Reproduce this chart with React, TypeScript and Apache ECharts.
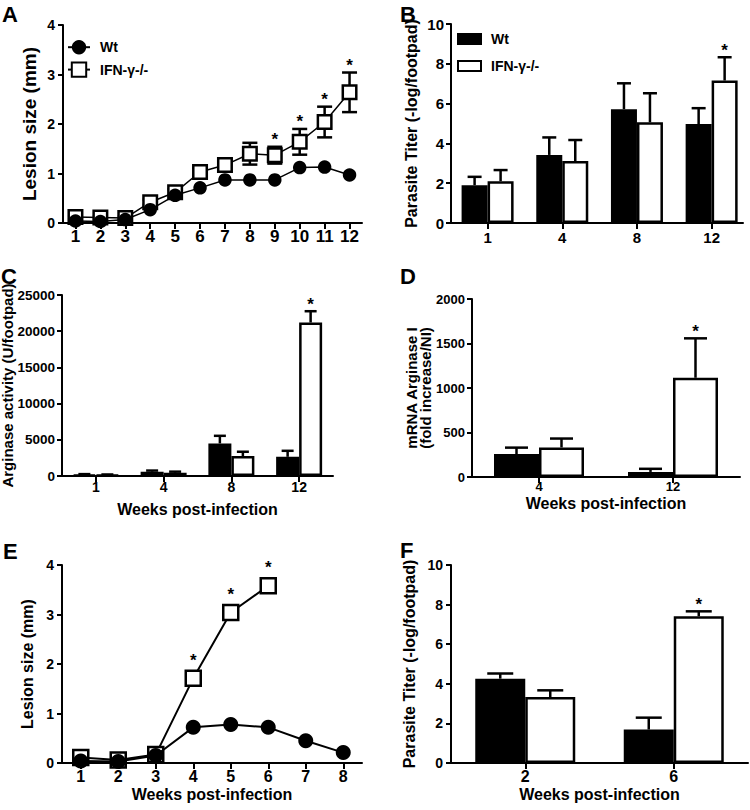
import React, { useEffect, useRef } from 'react';
import * as echarts from 'echarts';

const FONT = '"Liberation Sans", Arial, Helvetica, sans-serif';

// ---------- Panel A: lesion size, weeks 1-12 ----------
const aWeeks = [1, 2, 3, 4, 5, 6, 7, 8, 9, 10, 11, 12];
const aWt = [0.04, 0.03, 0.07, 0.27, 0.56, 0.71, 0.87, 0.87, 0.87, 1.12, 1.13, 0.97];
const aIfn = [0.12, 0.11, 0.1, 0.42, 0.62, 1.03, 1.17, 1.4, 1.37, 1.64, 2.04, 2.64];
const aIfnErr = [0.03, 0.03, 0.03, 0.05, 0.06, 0.08, 0.12, 0.22, 0.17, 0.26, 0.31, 0.4];
const aStarWeeks = [9, 10, 11, 12];

// ---------- Panel B: parasite titer ----------
const bWeeks = ['1', '4', '8', '12'];
const bWt = [1.9, 3.42, 5.72, 4.97];
const bWtErr = [0.42, 0.88, 1.3, 0.8];
const bIfn = [2.1, 3.11, 5.06, 7.16];
const bIfnErr = [0.56, 1.06, 1.46, 1.17];
const bStarIdx = [3];

// ---------- Panel C: arginase activity ----------
const cWeeks = ['1', '4', '8', '12'];
const cWt = [200, 600, 4500, 2650];
const cWtErr = [60, 150, 1050, 830];
const cIfn = [150, 450, 2750, 21200];
const cIfnErr = [60, 150, 600, 1560];
const cStarIdx = [3];

// ---------- Panel D: mRNA arginase I ----------
const dWeeks = ['4', '12'];
const dWt = [258, 57];
const dWtErr = [72, 35];
const dIfn = [332, 1115];
const dIfnErr = [100, 443];
const dStarIdx = [1];

// ---------- Panel E: lesion size, weeks 1-8 ----------
const eWeeks = [1, 2, 3, 4, 5, 6, 7, 8];
const eWt = [0.04, 0.03, 0.15, 0.72, 0.78, 0.72, 0.45, 0.21];
const eIfnWeeks = [1, 2, 3, 4, 5, 6];
const eIfn = [0.11, 0.06, 0.17, 1.71, 3.04, 3.58];
const eStarWeeks = [4, 5, 6];

// ---------- Panel F: parasite titer ----------
const fWeeks = ['2', '6'];
const fWt = [4.26, 1.69];
const fWtErr = [0.26, 0.6];
const fIfn = [3.33, 7.41];
const fIfnErr = [0.34, 0.25];
const fStarIdx = [1];

const txt = (size: number) => ({ fontFamily: FONT, fontWeight: 'bold' as const, fontSize: size, color: '#000' });
const axisLineStyle = { show: true, onZero: false, lineStyle: { color: '#000', width: 2 } };

function xAxis(grid: number, min: number, max: number, ticks: number[], fmt: (v: number) => string,
  labelSize: number, labelMargin: number, name?: string, nameGap?: number, nameSize?: number) {
  return {
    type: 'value', gridIndex: grid, min, max,
    axisLine: axisLineStyle,
    axisTick: { show: true, length: 6, customValues: ticks, lineStyle: { color: '#000', width: 2 } },
    axisLabel: { show: true, customValues: ticks, formatter: fmt, margin: labelMargin, ...txt(labelSize) },
    splitLine: { show: false },
    name: name || '', nameLocation: 'middle', nameGap: nameGap || 0, nameMoveOverlap: false,
    nameTextStyle: txt(nameSize || 16),
  };
}

function yAxis(grid: number, max: number, interval: number, labelSize: number, labelMargin: number, name: string,
  nameGap: number, nameSize: number, lineHeight?: number) {
  return {
    type: 'value', gridIndex: grid, min: 0, max, interval,
    axisLine: axisLineStyle,
    axisTick: { show: true, length: 5, lineStyle: { color: '#000', width: 2 } },
    axisLabel: { margin: labelMargin, formatter: (v: number) => String(v), ...txt(labelSize) },
    splitLine: { show: false },
    name, nameLocation: 'middle', nameRotate: 90, nameGap, nameMoveOverlap: false,
    nameTextStyle: { ...txt(nameSize), lineHeight: lineHeight || nameSize + 2 },
  };
}

function errRender(dx: number, cap: number, sym: boolean, lw: number) {
  return (_p: any, api: any) => {
    const x = api.value(0), v = api.value(1), e = api.value(2);
    const base = api.coord([x, v]);
    const top = api.coord([x, v + e]);
    const bot = sym ? api.coord([x, v - e]) : base;
    const cx = base[0] + dx;
    const st = { stroke: '#000', lineWidth: lw };
    const children: any[] = [
      { type: 'line', shape: { x1: cx, y1: bot[1], x2: cx, y2: top[1] }, style: st },
      { type: 'line', shape: { x1: cx - cap / 2, y1: top[1], x2: cx + cap / 2, y2: top[1] }, style: st },
    ];
    if (sym) children.push({ type: 'line', shape: { x1: cx - cap / 2, y1: bot[1], x2: cx + cap / 2, y2: bot[1] }, style: st });
    return { type: 'group', children };
  };
}

function starRender(dx: number, dy: number, size: number) {
  return (_p: any, api: any) => {
    const p = api.coord([api.value(0), api.value(1)]);
    return {
      type: 'text', x: p[0] + dx, y: p[1] + dy,
      style: { text: '*', fontFamily: FONT, fontWeight: 'bold', fontSize: size, fill: '#000', align: 'center', verticalAlign: 'middle' },
    };
  };
}

function barSeries(idx: number, tag: string, wt: number[], wtErr: number[], ifn: number[], ifnErr: number[],
  stars: number[], bw: number, cap: number) {
  return [
    {
      type: 'bar', name: 'Wt' + tag, xAxisIndex: idx, yAxisIndex: idx, barWidth: bw, barGap: '0%',
      data: wt.map((v, i) => [i, v]), itemStyle: { color: '#000', borderColor: '#000', borderWidth: 2 }, z: 2,
    },
    {
      type: 'bar', name: 'IFN-γ-/-' + tag, xAxisIndex: idx, yAxisIndex: idx, barWidth: bw, barGap: '0%',
      data: ifn.map((v, i) => [i, v]), itemStyle: { color: '#fff', borderColor: '#000', borderWidth: 2.5 }, z: 2,
    },
    {
      type: 'custom', name: 'errWt' + idx, xAxisIndex: idx, yAxisIndex: idx, z: 3,
      data: wt.map((v, i) => [i, v, wtErr[i]]), renderItem: errRender(-bw / 2, cap, false, 2.5),
    },
    {
      type: 'custom', name: 'errIfn' + idx, xAxisIndex: idx, yAxisIndex: idx, z: 3,
      data: ifn.map((v, i) => [i, v, ifnErr[i]]), renderItem: errRender(bw / 2, cap, false, 2.5),
    },
    {
      type: 'custom', name: 'star' + idx, xAxisIndex: idx, yAxisIndex: idx, z: 4,
      data: stars.map((i) => [i, ifn[i] + ifnErr[i]]), renderItem: starRender(bw / 2, -7, 17),
    },
  ];
}

function buildOption() {
  const catFmt = (cats: string[]) => (v: number) => cats[Math.round(v)] ?? '';
  const numFmt = (v: number) => String(v);
  const idxs = (arr: any[]) => arr.map((_, i) => i);
  const letter = (t: string, left: number, top: number) => ({
    type: 'text', left, top, style: { text: t, fontFamily: FONT, fontWeight: 'bold', fontSize: 22, fill: '#000' },
  });

  return {
    animation: false,
    backgroundColor: '#fff',
    textStyle: { fontFamily: FONT },
    grid: [
      { left: 63, top: 25, width: 299, height: 198, outerBoundsMode: 'none' },
      { left: 451, top: 24, width: 292, height: 199, outerBoundsMode: 'none' },
      { left: 62, top: 295, width: 271, height: 181, outerBoundsMode: 'none' },
      { left: 472, top: 299, width: 268, height: 178, outerBoundsMode: 'none' },
      { left: 62, top: 565, width: 300, height: 198, outerBoundsMode: 'none' },
      { left: 451, top: 565, width: 297, height: 198, outerBoundsMode: 'none' },
    ],
    xAxis: [
      xAxis(0, 0.5, 12.5, aWeeks, numFmt, 17, 5),
      xAxis(1, -0.49, 3.42, idxs(bWeeks), catFmt(bWeeks), 15, 7),
      xAxis(2, -0.5, 3.5, idxs(cWeeks), catFmt(cWeeks), 14, 4, 'Weeks post-infection', 25, 16),
      xAxis(3, -0.5, 1.5, idxs(dWeeks), catFmt(dWeeks), 13, 3, 'Weeks post-infection', 18, 16),
      xAxis(4, 0.5, 8.5, eWeeks, numFmt, 16, 5, 'Weeks post-infection', 23, 16),
      xAxis(5, -0.5, 1.5, idxs(fWeeks), catFmt(fWeeks), 16, 5, 'Weeks post-infection', 23, 16),
    ],
    yAxis: [
      yAxis(0, 4, 1, 14, 8, 'Lesion size (mm)', 23, 19),
      yAxis(1, 10, 2, 15, 7, 'Parasite Titer (-log/footpad)', 31, 16),
      yAxis(2, 25000, 5000, 13.5, 7, 'Arginase activity (U/footpad)', 46, 15),
      yAxis(3, 2000, 500, 13, 7, 'mRNA Arginase I\n(fold increase/NI)', 40, 15, 14),
      yAxis(4, 4, 1, 14, 8, 'Lesion size (mm)', 26, 16),
      yAxis(5, 10, 2, 14, 8, 'Parasite Titer (-log/footpad)', 33, 16),
    ],
    legend: [
      {
        data: ['Wt', 'IFN-γ-/-'], orient: 'vertical', left: 67, top: 40, padding: 0,
        itemWidth: 22, itemHeight: 18, itemGap: 7, selectedMode: false,
        textStyle: { ...txt(14), padding: [0, 0, 0, 5] },
      },
      {
        data: ['Wt|B', 'IFN-γ-/-|B'], orient: 'vertical', left: 457, top: 32, padding: 0,
        itemWidth: 23, itemHeight: 10, itemGap: 13, icon: 'rect', selectedMode: false,
        formatter: (n: string) => n.split('|')[0],
        textStyle: { ...txt(14), padding: [0, 0, 0, 5] },
      },
    ],
    graphic: [
      letter('A', 2, 3),
      letter('B', 400, 3),
      letter('C', 1, 265),
      letter('D', 400, 265),
      letter('E', 3, 540),
      letter('F', 400, 539),
    ],
    series: [
      // Panel A
      {
        type: 'custom', name: 'errA', xAxisIndex: 0, yAxisIndex: 0, z: 1,
        data: aWeeks.map((w, i) => [w, aIfn[i], aIfnErr[i]]), renderItem: errRender(0, 15, true, 2.5),
      },
      {
        type: 'line', name: 'IFN-γ-/-', xAxisIndex: 0, yAxisIndex: 0, z: 2,
        data: aWeeks.map((w, i) => [w, aIfn[i]]), symbol: 'rect', symbolSize: 13.5, showAllSymbol: true,
        itemStyle: { color: '#fff', borderColor: '#000', borderWidth: 2.5 }, lineStyle: { color: '#000', width: 1.5 },
      },
      {
        type: 'line', name: 'Wt', xAxisIndex: 0, yAxisIndex: 0, z: 3,
        data: aWeeks.map((w, i) => [w, aWt[i]]), symbol: 'circle', symbolSize: 13.5, showAllSymbol: true,
        itemStyle: { color: '#000' }, lineStyle: { color: '#000', width: 1.5 },
      },
      {
        type: 'custom', name: 'starA', xAxisIndex: 0, yAxisIndex: 0, z: 4,
        data: aStarWeeks.map((w) => { const i = aWeeks.indexOf(w); return [w, aIfn[i] + aIfnErr[i]]; }),
        renderItem: starRender(0, -7, 17),
      },
      // Panels B, C, D, F
      ...barSeries(1, '|B', bWt, bWtErr, bIfn, bIfnErr, bStarIdx, 26, 14),
      ...barSeries(2, '|C', cWt, cWtErr, cIfn, cIfnErr, cStarIdx, 23, 12),
      ...barSeries(3, '|D', dWt, dWtErr, dIfn, dIfnErr, dStarIdx, 45, 23),
      ...barSeries(5, '|F', fWt, fWtErr, fIfn, fIfnErr, fStarIdx, 50, 26),
      // Panel E
      {
        type: 'line', name: 'IFN-γ-/-|E', xAxisIndex: 4, yAxisIndex: 4, z: 2,
        data: eIfnWeeks.map((w, i) => [w, eIfn[i]]), symbol: 'rect', symbolSize: 15, showAllSymbol: true,
        itemStyle: { color: '#fff', borderColor: '#000', borderWidth: 2.5 }, lineStyle: { color: '#000', width: 2 },
      },
      {
        type: 'line', name: 'Wt|E', xAxisIndex: 4, yAxisIndex: 4, z: 3,
        data: eWeeks.map((w, i) => [w, eWt[i]]), symbol: 'circle', symbolSize: 15, showAllSymbol: true,
        itemStyle: { color: '#000' }, lineStyle: { color: '#000', width: 2 },
      },
      {
        type: 'custom', name: 'starE', xAxisIndex: 4, yAxisIndex: 4, z: 4,
        data: eStarWeeks.map((w) => [w, eIfn[eIfnWeeks.indexOf(w)]]),
        renderItem: starRender(0, -18, 17),
      },
    ],
  };
}

export default function App() {
  const ref = useRef<HTMLDivElement>(null);
  useEffect(() => {
    const chart = echarts.init(ref.current!, null, { renderer: 'svg' });
    chart.setOption(buildOption() as any);
    return () => chart.dispose();
  }, []);
  return (
    <div
      ref={ref}
      style={{ position: 'absolute', left: 0, top: 0, width: 750, height: 810, background: '#fff' }}
    />
  );
}
